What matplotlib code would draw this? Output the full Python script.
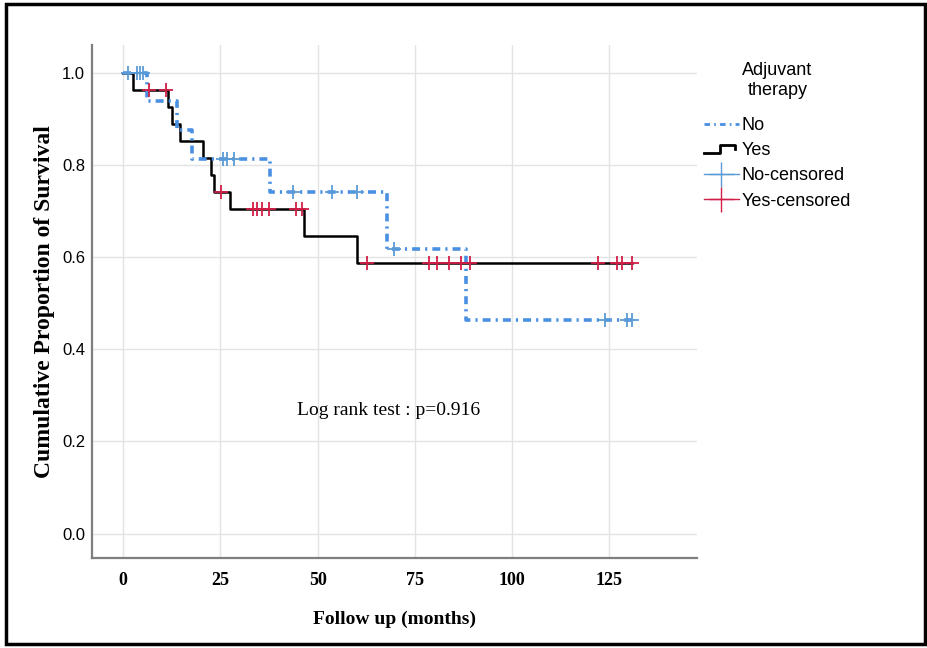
import numpy as np
import matplotlib
matplotlib.use('Agg')
import matplotlib.pyplot as plt
from matplotlib.lines import Line2D
from matplotlib.legend_handler import HandlerBase
from matplotlib.patches import Rectangle

# Kaplan-Meier steps (months, survival)
yes_t = [0, 2.4, 11.6, 12.5, 14.6, 20.4, 22.5, 23.3, 27.4, 46.6, 60.2, 131.0]
yes_s = [1.0, 0.963, 0.926, 0.889, 0.852, 0.815, 0.778, 0.741, 0.704, 0.646, 0.587, 0.587]
yes_cens = [6.7, 11.0, 25.1, 33.3, 34.5, 35.7, 37.6, 44.4, 45.9, 62.8, 78.7, 80.6,
            83.9, 86.9, 89.2, 122.1, 127.1, 128.3, 131.0]

no_t = [0, 6.2, 13.9, 17.6, 37.8, 67.8, 88.2, 130.8]
no_s = [1.0, 0.938, 0.875, 0.813, 0.741, 0.618, 0.463, 0.463]
no_cens = [1.3, 3.4, 4.3, 5.1, 25.7, 26.8, 28.6, 43.6, 53.6, 60.0, 69.6, 123.9, 129.5, 130.8]

x_ticks = [0, 25, 50, 75, 100, 125]
y_ticks = [0.0, 0.2, 0.4, 0.6, 0.8, 1.0]

blue = '#4a90e2'
blue_c = '#5b9bd5'
red = '#d11f47'


def step_value(t, times, surv):
    # value of the step function at time t
    i = np.searchsorted(times, t, side='right') - 1
    return np.asarray(surv)[i]


class StepHandler(HandlerBase):
    def create_artists(self, legend, orig_handle, xdescent, ydescent, width, height, fontsize, trans):
        xs = np.array([0, .45, .45, .9, .9]) * width - xdescent
        ys = np.array([.2, .2, .85, .85, .5]) * height - ydescent
        return [Line2D(xs, ys, color='black', lw=2, transform=trans)]


fig = plt.figure(figsize=(9.28, 6.48), dpi=100)
ax = fig.add_axes([92 / 928, 1 - 558 / 648, (697 - 92) / 928, (558 - 45) / 648])

ax.step(yes_t, yes_s, where='post', color='black', lw=1.8, zorder=3)
ax.step(no_t, no_s, where='post', color=blue, lw=2.6, ls=(0, (2.2, 1.4, 0.6, 1.4)),
        dash_capstyle='butt', zorder=4)

ax.plot(yes_cens, step_value(yes_cens, yes_t, yes_s), ls='none', marker='+',
        color=red, ms=10, mew=1.3, zorder=5)
ax.plot(no_cens, step_value(no_cens, no_t, no_s), ls='none', marker='+',
        color=blue_c, ms=10, mew=1.3, zorder=5)

ax.set_xlim(-8.05, 147.6)
ax.set_ylim(-0.053, 1.06)
ax.set_xticks(x_ticks)
ax.set_yticks(y_ticks)
ax.set_yticklabels(['%.1f' % v for v in y_ticks], fontfamily='Liberation Sans', fontsize=12)
ax.set_xticklabels([str(v) for v in x_ticks], fontfamily='Liberation Serif',
                   fontweight='bold', fontsize=13)
ax.tick_params(axis='x', length=0, pad=10)
ax.tick_params(axis='y', length=0, pad=5)
ax.grid(True, color='#e3e3e3', lw=1)
ax.set_axisbelow(True)
for s in ['top', 'right']:
    ax.spines[s].set_visible(False)
for s in ['left', 'bottom']:
    ax.spines[s].set_color('#7f7f7f')
    ax.spines[s].set_linewidth(1.6)

ax.set_xlabel('Follow up (months)', fontfamily='Liberation Serif', fontweight='bold',
              fontsize=14, labelpad=16)
ax.set_ylabel('Cumulative Proportion of Survival', fontfamily='Liberation Serif',
              fontweight='bold', fontsize=17, labelpad=5)

ax.text(68.2, 0.268, 'Log rank test : p=0.916', fontfamily='Liberation Serif',
        fontsize=14, ha='center', va='center')

h_no = Line2D([], [], color=blue, lw=2, ls=(0, (2, 1.5, 0.6, 1.5)))
h_yes = Line2D([], [], color='black', lw=2)
h_nc = Line2D([], [], color=blue_c, marker='+', ms=18, mew=1, ls='-', lw=1)
h_yc = Line2D([], [], color=red, marker='+', ms=18, mew=1, ls='-', lw=1)
leg = ax.legend([h_no, h_yes, h_nc, h_yc], ['No', 'Yes', 'No-censored', 'Yes-censored'],
                handler_map={h_yes: StepHandler()},
                title='Adjuvant\ntherapy', loc='upper left', bbox_to_anchor=(1.0, 0.98),
                frameon=False, handlelength=1.9, handletextpad=0.15, labelspacing=0.45,
                borderaxespad=0, alignment='center',
                prop={'family': 'Liberation Sans', 'size': 13},
                title_fontproperties={'family': 'Liberation Sans', 'size': 13})
leg.get_title().set_multialignment('center')
leg._legend_box.sep = 13

fig.patches.append(Rectangle((6 / 928, 4 / 648), 919 / 928, 640 / 648, transform=fig.transFigure,
                             fill=False, edgecolor='black', lw=2.5))

fig.savefig('out.png', dpi=100)
